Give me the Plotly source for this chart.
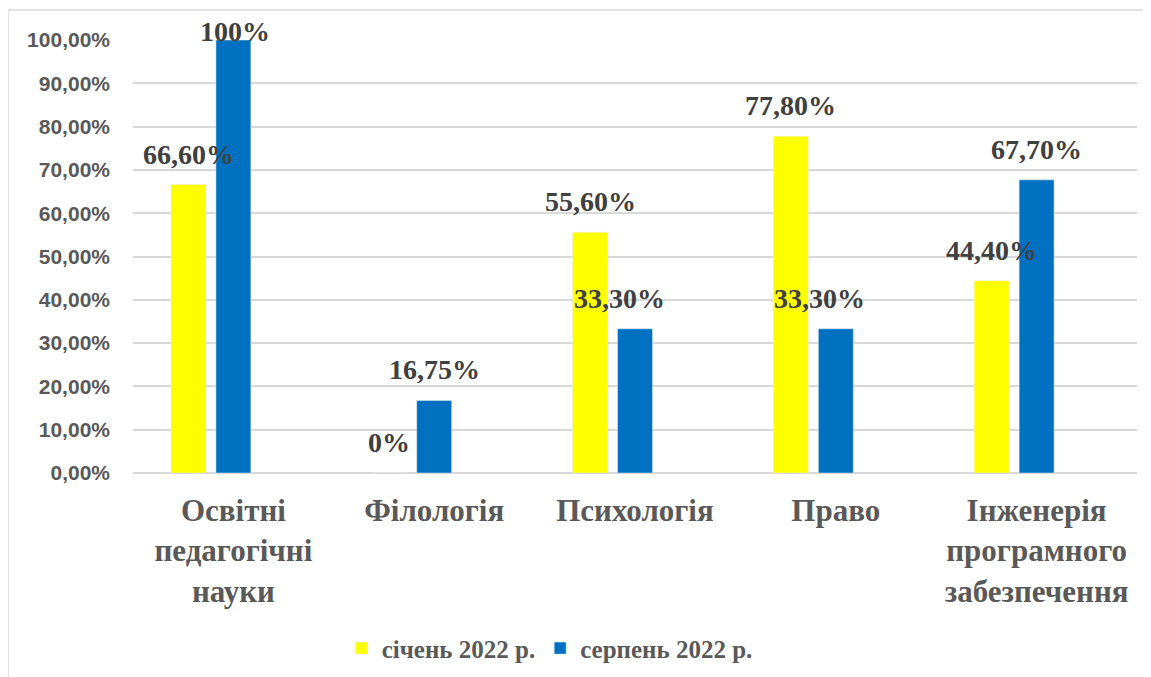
import plotly.graph_objects as go

categories = ['Освітні<br>педагогічні<br>науки', 'Філологія', 'Психологія', 'Право',
              'Інженерія<br>програмного<br>забезпечення']
jan_2022 = [0.666, 0.0, 0.556, 0.778, 0.444]
aug_2022 = [1.0, 0.1675, 0.333, 0.333, 0.677]
jan_labels = ['66,60%', '0%', '55,60%', '77,80%', '44,40%']
aug_labels = ['100%', '16,75%', '33,30%', '33,30%', '67,70%']

YELLOW = '#FFFF00'
BLUE = '#0070C0'
GRAY = '#595959'
SERIF = 'Times New Roman, Liberation Serif, serif'

fig = go.Figure()
# bar widths/offsets in category units (one category = ~201 px)
fig.add_trace(go.Bar(x=categories, y=jan_2022, name='січень 2022 р.',
                     marker_color=YELLOW, width=0.174, offset=-0.311))
fig.add_trace(go.Bar(x=categories, y=aug_2022, name='серпень 2022 р.',
                     marker_color=BLUE, width=0.174, offset=-0.087))

label_font = dict(family=SERIF, size=28, color='#404040', weight='bold')
# small manual nudges as in the original chart (xshift, yshift)
aug_nudge = {0: (2, -22), 2: (-16, 0), 3: (-16, 0)}
for i, c in enumerate(categories):
    fig.add_annotation(x=c, y=jan_2022[i], text=jan_labels[i], showarrow=False,
                       xshift=-45, yshift=13, yanchor='bottom', font=label_font)
    dx, dy = aug_nudge.get(i, (0, 0))
    fig.add_annotation(x=c, y=aug_2022[i], text=aug_labels[i], showarrow=False,
                       xshift=dx, yshift=13 + dy, yanchor='bottom', font=label_font)

# chart frame (cut off at right and bottom like the source)
fig.add_shape(type='rect', xref='paper', yref='paper', x0=-0.1245, y0=-0.5, x1=1.2, y1=1.069,
              line=dict(color='#D9D9D9', width=1.5), layer='below')

fig.update_layout(
    width=1143, height=669,
    margin=dict(l=125, r=14, t=32, b=204, autoexpand=False),
    plot_bgcolor='white', paper_bgcolor='white',
    separators=', ',
    showlegend=True,
    legend=dict(orientation='h', x=0.415, xanchor='center', y=-0.405, yanchor='middle',
                font=dict(family=SERIF, size=25, color=GRAY, weight='bold'),
                itemwidth=30, traceorder='normal'),
    yaxis=dict(range=[0, 1], dtick=0.1, tickformat='.2%', showgrid=True, automargin=False,
               gridcolor='#D9D9D9', gridwidth=1.5, zeroline=True, zerolinecolor='#D9D9D9',
               zerolinewidth=1.5, ticklabelstandoff=22,
               tickfont=dict(family='Arial, Liberation Sans, sans-serif', size=21,
                             color=GRAY, weight='bold')),
    xaxis=dict(showline=False, ticks='', ticklabelstandoff=16, automargin=False,
               tickfont=dict(family=SERIF, size=31, color=GRAY, weight='bold')),
)

fig.write_html('out.html')
